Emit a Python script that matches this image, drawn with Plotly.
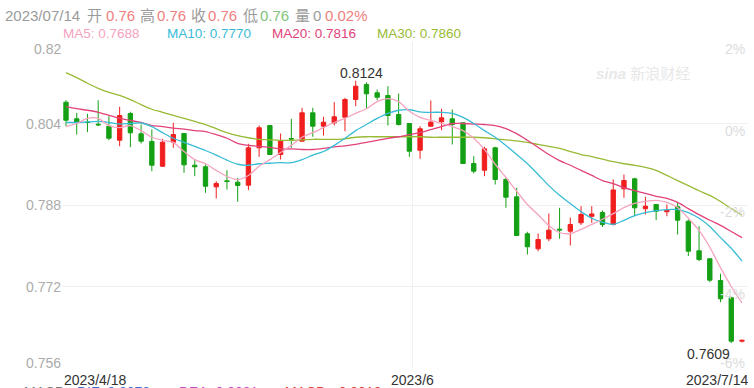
import pandas as pd
import plotly.graph_objects as go

# ---------------- data ----------------
dates = [d.strftime("%Y/%m/%d") for d in pd.bdate_range("2023-04-18", "2023-07-14")]

open_ = [0.80818, 0.80492, 0.80429, 0.80386, 0.80347, 0.80072, 0.80596, 0.80198, 0.80047, 0.79562,
         0.80033, 0.80204, 0.79581, 0.79550, 0.79157, 0.79275, 0.79248, 0.79189, 0.79923, 0.80361,
         0.79791, 0.80106, 0.80053, 0.80610, 0.80347, 0.80414, 0.80524, 0.80871, 0.81166, 0.81003,
         0.80950, 0.80577, 0.80400, 0.79876, 0.80347, 0.80433, 0.80492, 0.80414, 0.79615, 0.79483,
         0.79923, 0.79301, 0.78961, 0.78235, 0.77940, 0.78137, 0.78325, 0.78286, 0.78451, 0.78578,
         0.78653, 0.78417, 0.79118, 0.79314, 0.78726, 0.78810, 0.78667, 0.78765, 0.78482, 0.77901,
         0.77744, 0.77318, 0.76979, 0.76127]
high = [0.80857, 0.80610, 0.80590, 0.80857, 0.80543, 0.80728, 0.80630, 0.80380, 0.80282, 0.80100,
        0.80414, 0.80210, 0.79680, 0.79595, 0.79267, 0.79483, 0.79334, 0.80002, 0.80361, 0.80371,
        0.80204, 0.80492, 0.80708, 0.80708, 0.80532, 0.80818, 0.80904, 0.81240, 0.81211, 0.81067,
        0.81132, 0.80989, 0.80405, 0.80347, 0.80851, 0.80689, 0.80675, 0.80420, 0.79758, 0.79943,
        0.79943, 0.79334, 0.79138, 0.78274, 0.78241, 0.78633, 0.78745, 0.78555, 0.78777, 0.78777,
        0.78692, 0.79301, 0.79399, 0.79334, 0.78961, 0.78815, 0.78810, 0.78855, 0.78516, 0.78384,
        0.77750, 0.77450, 0.76985, 0.76160]
low = [0.80347, 0.80184, 0.80229, 0.80347, 0.80072, 0.79954, 0.79935, 0.80007, 0.79464, 0.79550,
       0.79923, 0.79432, 0.79366, 0.79040, 0.78928, 0.79104, 0.78863, 0.79091, 0.79746, 0.79782,
       0.79693, 0.79923, 0.80047, 0.80139, 0.80164, 0.80361, 0.80249, 0.80740, 0.80689, 0.80857,
       0.80361, 0.80361, 0.79746, 0.79707, 0.80340, 0.80268, 0.79988, 0.79610, 0.79419, 0.79366,
       0.79203, 0.78745, 0.78188, 0.77828, 0.77893, 0.78090, 0.78137, 0.78005, 0.78408, 0.78451,
       0.78368, 0.78398, 0.78941, 0.78580, 0.78614, 0.78502, 0.78580, 0.78221, 0.77799, 0.77697,
       0.77285, 0.76892, 0.76090, 0.76100]
close = [0.80465, 0.80426, 0.80420, 0.80374, 0.80111, 0.80557, 0.80217, 0.80053, 0.79581, 0.80033,
         0.80184, 0.79589, 0.79550, 0.79169, 0.79222, 0.79261, 0.79183, 0.79923, 0.80316, 0.79791,
         0.80053, 0.80094, 0.80610, 0.80347, 0.80426, 0.80532, 0.80871, 0.81132, 0.80983, 0.80916,
         0.80557, 0.80380, 0.79856, 0.80296, 0.80426, 0.80512, 0.80380, 0.79615, 0.79464, 0.79903,
         0.79301, 0.78953, 0.78201, 0.77980, 0.78123, 0.78306, 0.78309, 0.78417, 0.78614, 0.78624,
         0.78417, 0.79095, 0.79281, 0.78745, 0.78777, 0.78678, 0.78698, 0.78502, 0.77893, 0.77730,
         0.77324, 0.76959, 0.76127, 0.76142]

ma5 = [0.8034, 0.8040, 0.8050, 0.8050, 0.8036, 0.8032, 0.8036, 0.8026, 0.8013, 0.8007,
       0.8003, 0.7985, 0.7969, 0.7961, 0.7948, 0.7936, 0.7930, 0.7938, 0.7956, 0.7969,
       0.7983, 0.7997, 0.8013, 0.8022, 0.8032, 0.8042, 0.8050, 0.8060, 0.8069, 0.8083,
       0.8089, 0.8083, 0.8064, 0.8052, 0.8046, 0.8040, 0.8034, 0.8026, 0.8011, 0.7989,
       0.7960, 0.7934, 0.7907, 0.7881, 0.7861, 0.7840, 0.7826, 0.7824, 0.7832, 0.7842,
       0.7852, 0.7863, 0.7875, 0.7883, 0.7887, 0.7889, 0.7885, 0.7875, 0.7854, 0.7830,
       0.7797, 0.7757, 0.7720, 0.7688]
ma10 = [0.8042, 0.8042, 0.8043, 0.8044, 0.8042, 0.8039, 0.8040, 0.8041, 0.8034, 0.8022,
        0.8011, 0.8003, 0.7995, 0.7987, 0.7978, 0.7968, 0.7960, 0.7958, 0.7961, 0.7962,
        0.7963, 0.7963, 0.7969, 0.7978, 0.7985, 0.7997, 0.8011, 0.8026, 0.8038, 0.8050,
        0.8060, 0.8066, 0.8067, 0.8063, 0.8062, 0.8062, 0.8060, 0.8052, 0.8040, 0.8026,
        0.8013, 0.7997, 0.7979, 0.7961, 0.7940, 0.7918, 0.7899, 0.7883, 0.7867, 0.7854,
        0.7846, 0.7842, 0.7850, 0.7859, 0.7865, 0.7869, 0.7871, 0.7871, 0.7865, 0.7854,
        0.7838, 0.7816, 0.7795, 0.7770]
ma20 = [0.8073, 0.8069, 0.8066, 0.8062, 0.8056, 0.8050, 0.8046, 0.8042, 0.8036, 0.8034,
        0.8031, 0.8029, 0.8026, 0.8024, 0.8018, 0.8011, 0.8001, 0.7997, 0.7995, 0.7993,
        0.7990, 0.7990, 0.7989, 0.7989, 0.7991, 0.7994, 0.7996, 0.7999, 0.8003, 0.8007,
        0.8011, 0.8014, 0.8018, 0.8022, 0.8028, 0.8034, 0.8040, 0.8040, 0.8039, 0.8038,
        0.8036, 0.8030, 0.8020, 0.8007, 0.7993, 0.7979, 0.7967, 0.7958, 0.7948, 0.7938,
        0.7928, 0.7922, 0.7914, 0.7908, 0.7903, 0.7897, 0.7893, 0.7885, 0.7873, 0.7861,
        0.7850, 0.7840, 0.7828, 0.7816]
ma30 = [0.8140, 0.8130, 0.8119, 0.8109, 0.8101, 0.8095, 0.8087, 0.8077, 0.8068, 0.8062,
        0.8056, 0.8050, 0.8044, 0.8038, 0.8030, 0.8022, 0.8016, 0.8012, 0.8009, 0.8008,
        0.8007, 0.8007, 0.8008, 0.8009, 0.8009, 0.8009, 0.8010, 0.8013, 0.8014, 0.8014,
        0.8014, 0.8014, 0.8014, 0.8014, 0.8013, 0.8013, 0.8013, 0.8013, 0.8013, 0.8012,
        0.8010, 0.8008, 0.8006, 0.8003, 0.7999, 0.7995, 0.7991, 0.7985, 0.7979, 0.7975,
        0.7970, 0.7965, 0.7961, 0.7958, 0.7954, 0.7948, 0.7938, 0.7928, 0.7918, 0.7908,
        0.7899, 0.7887, 0.7873, 0.7860]

y_ticks = [0.820, 0.804, 0.788, 0.772, 0.756]
y_tick_text = ["0.82", "0.804", "0.788", "0.772", "0.756"]
pct_text = ["2%", "0%", "-2%", "-4%", "-6%"]
x_label_dates = ["2023/04/18", "2023/06/01", "2023/07/14"]
x_label_text = ["2023/4/18", "2023/6", "2023/7/14"]

header_items = [("2023/07/14", "#9b9b9b"), ("开", "#9b9b9b"), ("0.76", "#f08080"),
                ("高", "#9b9b9b"), ("0.76", "#f08080"), ("收", "#9b9b9b"), ("0.76", "#f08080"),
                ("低", "#9b9b9b"), ("0.76", "#7ec47e"), ("量", "#9b9b9b"), ("0", "#9b9b9b"),
                ("0.02%", "#f08080")]
ma_labels = ["MA5: 0.7688", "MA10: 0.7770", "MA20: 0.7816", "MA30: 0.7860"]
# legend of the panel below, only its top edge shows in the picture
macd_items = [("MACD", "#777777"), ("DIF: 0.0072", "#3f6fd8"), ("DEA: 0.0081", "#c94cc9"),
              ("MACD: -0.0018", "#e03c3c")]

# ---------------- styling ----------------
RED = "#f01e1e"
GREEN = "#14a014"
MA_COLORS = ["#f5a3bf", "#38bcd6", "#e2427a", "#98ba35"]
FONT = "Arial, 'Liberation Sans', 'Noto Sans CJK SC', sans-serif"
W, H = 754, 388
ML, MR, MT, MB = 62, 6, 42, 20
PW, PH = W - ML - MR, H - MT - MB


def px(xp):
    return (xp - ML) / PW


def py(yp):
    return (H - MB - yp) / PH


idx = list(range(len(dates)))

fig = go.Figure()
fig.add_trace(go.Candlestick(
    x=idx, open=open_, high=high, low=low, close=close,
    increasing=dict(line=dict(color=RED, width=1), fillcolor=RED),
    decreasing=dict(line=dict(color=GREEN, width=1), fillcolor=GREEN),
    whiskerwidth=0, showlegend=False, hoverinfo="skip"))

for series, col in zip([ma30, ma20, ma10, ma5], MA_COLORS[::-1]):
    fig.add_trace(go.Scatter(x=idx, y=series, mode="lines", showlegend=False, hoverinfo="skip",
                             line=dict(color=col, width=1.3, shape="spline", smoothing=0.8)))

ann = []
# left tick labels
for i, (v, t) in enumerate(zip(y_ticks, y_tick_text)):
    shift = -7 if i == 0 else (5 if i == len(y_ticks) - 1 else 0)
    ann.append(dict(x=0, xref="paper", y=v, yref="y", text=t, showarrow=False, xanchor="right",
                    yanchor="middle", yshift=shift, xshift=1,
                    font=dict(family=FONT, size=14, color="#ababab")))
# right percent labels
for i, (v, t) in enumerate(zip(y_ticks, pct_text)):
    shift = 5 if i == len(y_ticks) - 1 else -7
    ann.append(dict(x=1, xref="paper", y=v, yref="y", text=t, showarrow=False, xanchor="right",
                    yanchor="middle", yshift=shift, xshift=-1,
                    font=dict(family=FONT, size=14, color="#dcdcdc")))
# x labels
anchors = ["left", "center", "right"]
xshifts = [-4, 3, 8]
for d, t, a, s in zip(x_label_dates, x_label_text, anchors, xshifts):
    ann.append(dict(x=dates.index(d), xref="x", y=py(380), yref="paper", text=t, showarrow=False,
                    xanchor=a, yanchor="middle", xshift=s,
                    font=dict(family=FONT, size=14, color="#333333")))
# max / min labels
imax = high.index(max(high))
imin = low.index(min(low))
ann.append(dict(x=imax, y=max(high), text=f"{max(high):.4f}", showarrow=False, xanchor="center",
                yanchor="bottom", xshift=6, yshift=-2, font=dict(family=FONT, size=14, color="#333333")))
ann.append(dict(x=imin, y=min(low), text=f"{min(low):.4f}", showarrow=False, xanchor="right",
                yanchor="top", xshift=1, yshift=-1, font=dict(family=FONT, size=14, color="#333333")))
# header line 1
hx = [5, 87, 106, 140, 157, 191, 208, 243, 260, 295, 313, 325]
for (t, c), x0 in zip(header_items, hx):
    ann.append(dict(x=px(x0), xref="paper", y=py(15), yref="paper", text=t, showarrow=False,
                    xanchor="left", yanchor="middle", xshift=-2,
                    font=dict(family=FONT, size=15, color=c)))
# MA legend line
mx = [63, 167, 272, 377]
for t, c, x0 in zip(ma_labels, MA_COLORS, mx):
    ann.append(dict(x=px(x0), xref="paper", y=py(33.5), yref="paper", text=t, showarrow=False,
                    xanchor="left", yanchor="middle", xshift=-2,
                    font=dict(family=FONT, size=13.5, color=c)))
# lower panel legend (cut by the bottom edge)
bx = [24, 77, 179, 285]
for (t, c), x0 in zip(macd_items, bx):
    ann.append(dict(x=px(x0), xref="paper", y=py(392), yref="paper", text=t, showarrow=False,
                    xanchor="left", yanchor="middle", xshift=-2,
                    font=dict(family=FONT, size=14, color=c)))
# watermark
ann.append(dict(x=px(643), xref="paper", y=py(73), yref="paper",
                text="<i><b>sina</b></i> 新浪财经", showarrow=False, xanchor="center",
                yanchor="middle", font=dict(family=FONT, size=15, color="#e8e8e8")))

fig.update_layout(
    width=W, height=H, margin=dict(l=ML, r=MR, t=MT, b=MB),
    paper_bgcolor="white", plot_bgcolor="white",
    boxgap=0.42, annotations=ann, hovermode=False,
    xaxis=dict(range=[-0.373, 63.56], rangeslider=dict(visible=False), showticklabels=False,
               tickvals=[dates.index("2023/06/01") + 0.25], showgrid=True, gridcolor="#f0f0f0",
               zeroline=False, showline=False, ticks=""),
    yaxis=dict(range=[0.756, 0.820], tickvals=y_ticks, showticklabels=False, showgrid=True,
               gridcolor="#f0f0f0", zeroline=False, showline=False, ticks=""),
)

fig.write_html("out.html", config={"displayModeBar": False},
               post_script="document.body.style.margin='0';document.body.style.overflow='hidden';")
